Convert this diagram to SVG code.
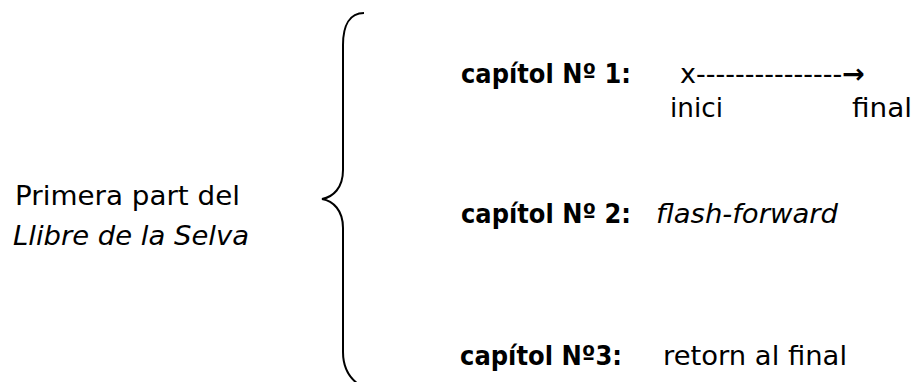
<svg xmlns="http://www.w3.org/2000/svg" width="914" height="382" viewBox="0 0 914 382">
<style>
text{font-family:"DejaVu Sans","Liberation Sans",sans-serif;font-size:27px;fill:#000}
.b{font-weight:bold}
.i{font-style:italic}
.brace{fill:none;stroke:#000;stroke-width:2}
</style>
<rect width="914" height="382" fill="#fff"/>
<g id="part">
<text x="15" y="205" textLength="225" lengthAdjust="spacingAndGlyphs">Primera part del</text>
<text class="i" x="13" y="245" textLength="236" lengthAdjust="spacingAndGlyphs">Llibre de la Selva</text>
</g>
<g id="connectors">
<path class="brace" d="M364,13 C350,13 343,25 343,45 V170 C343,188 333,197 322,199 C333,201 343,210 343,228 V352 C343,368 350,378 358,384"/>
</g>
<g id="cap1">
<text class="b" x="461" y="83" font-size="28" textLength="170" lengthAdjust="spacingAndGlyphs">capítol Nº 1:</text>
<text x="680" y="83">x---------------<tspan class="b">→</tspan></text>
<text x="670" y="117" textLength="53" lengthAdjust="spacingAndGlyphs">inici</text>
<text x="852" y="117" textLength="60" lengthAdjust="spacingAndGlyphs">final</text>
</g>
<g id="cap2">
<text class="b" x="461" y="223" font-size="28" textLength="170" lengthAdjust="spacingAndGlyphs">capítol Nº 2:</text>
<text class="i" x="656" y="223" textLength="182" lengthAdjust="spacingAndGlyphs">flash-forward</text>
</g>
<g id="cap3">
<text class="b" x="460" y="365" font-size="28" textLength="162" lengthAdjust="spacingAndGlyphs">capítol Nº3:</text>
<text x="663" y="365" textLength="184" lengthAdjust="spacingAndGlyphs">retorn al final</text>
</g>
</svg>
